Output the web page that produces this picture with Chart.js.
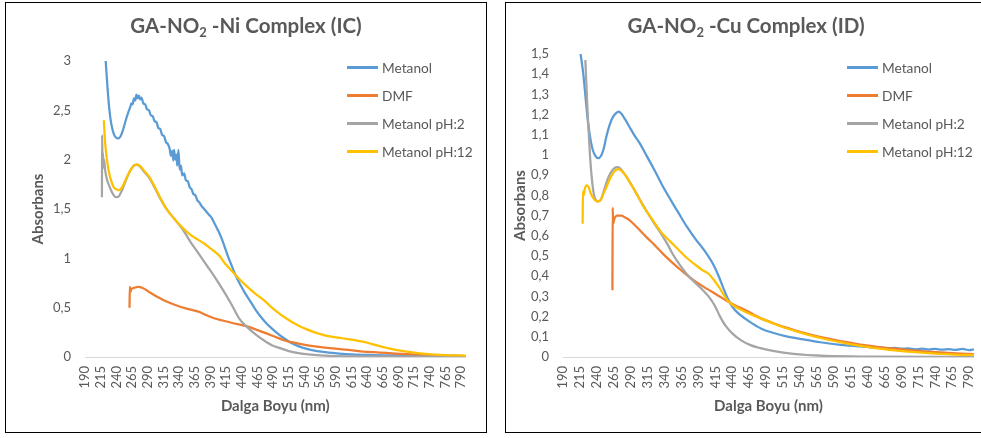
<!DOCTYPE html>
<html>
<head>
<meta charset="utf-8">
<script src="https://cdn.jsdelivr.net/npm/chart.js@4.4.1/dist/chart.umd.min.js"></script>
<style>
  html, body { margin: 0; padding: 0; background: #fff; overflow: hidden; }
  body { width: 981px; height: 438px; position: relative; font-family: Lato, "Open Sans", sans-serif; color: #595959; }
  .panel { position: absolute; top: 2px; height: 431px; border: 1px solid #000; box-sizing: border-box; }
  canvas { position: absolute; }
  .title { position: absolute; top: 13px; font-weight: bold; font-size: 20.5px; white-space: nowrap; transform: translateX(-50%); }
  .title sub { font-size: 13px; vertical-align: -4px; line-height: 0; }
  .legend { position: absolute; top: 53px; font-size: 13.7px; }
  .legend div { height: 28px; display: flex; align-items: center; white-space: nowrap; }
  .legend i { display: inline-block; width: 31px; height: 3px; margin-right: 4px; }
</style>
</head>
<body>
<div class="panel" style="left:5px;width:482px"></div>
<div class="panel" style="left:505px;width:500px"></div>
<canvas id="chartNi" width="480" height="429" style="left:6px;top:3px"></canvas>
<canvas id="chartCu" width="488" height="429" style="left:506px;top:3px"></canvas>
<div class="title" style="left:246px">GA-NO<sub>2</sub> -Ni Complex (IC)</div>
<div class="title" style="left:746px">GA-NO<sub>2</sub> -Cu Complex (ID)</div>
<div class="legend" id="legendNi" style="left:347px"></div>
<div class="legend" id="legendCu" style="left:847px"></div>
<script>
// etiquetas del eje X (nm)
const waveTicks = [190, 215, 240, 265, 290, 315, 340, 365, 390, 415, 440, 465, 490,
  515, 540, 565, 590, 615, 640, 665, 690, 715, 740, 765, 790];

const seriesNames = ['Metanol', 'DMF', 'Metanol pH:2', 'Metanol pH:12'];
const seriesColors = ['#5B9BD5', '#ED7D31', '#A5A5A5', '#FFC000'];

// === Complejo Ni (IC): [nm, absorbancia] ===
const niMetanol = [[223, 3.00], [226, 2.72], [229, 2.50], [232, 2.36], [236, 2.26], [240, 2.22],
  [243, 2.215], [247, 2.24], [251, 2.31], [255, 2.40], [259, 2.48], [262, 2.53], [264, 2.57],
  [266, 2.56], [268, 2.62], [270, 2.60], [272, 2.66], [274, 2.62], [276, 2.65], [278, 2.61],
  [280, 2.63], [283, 2.57], [286, 2.56], [289, 2.51], [292, 2.50], [295, 2.45], [298, 2.44],
  [301, 2.39], [304, 2.38], [307, 2.32], [310, 2.31], [313, 2.25], [316, 2.24], [319, 2.18],
  [322, 2.16], [325, 2.11], [327, 2.04], [329, 2.09], [331, 1.99], [332, 2.10], [334, 2.00],
  [336, 2.05], [337, 1.94], [339, 2.10], [341, 1.90], [343, 1.94], [345, 1.84], [348, 1.86],
  [351, 1.79], [354, 1.78], [357, 1.72], [360, 1.70], [363, 1.65], [366, 1.64], [369, 1.59],
  [372, 1.57], [376, 1.53], [380, 1.50], [384, 1.47], [388, 1.44], [392, 1.41], [396, 1.36],
  [400, 1.31], [404, 1.26], [408, 1.20], [413, 1.11], [418, 1.02], [423, 0.94], [428, 0.86],
  [433, 0.79], [438, 0.73], [444, 0.66], [449, 0.61], [456, 0.54], [463, 0.47], [470, 0.41],
  [478, 0.35], [486, 0.30], [495, 0.25], [505, 0.20], [517, 0.15], [530, 0.11], [545, 0.08],
  [560, 0.06], [580, 0.045], [606, 0.03], [650, 0.02], [700, 0.015], [797, 0.01]];
const niDmf = [[261, 0.50], [261.5, 0.71], [262.5, 0.66], [264, 0.69], [268, 0.70], [274, 0.71],
  [282, 0.70], [292, 0.66], [305, 0.61], [319, 0.565], [334, 0.527], [352, 0.49], [371, 0.46],
  [385, 0.42], [397, 0.39], [410, 0.37], [422, 0.35], [435, 0.33], [449, 0.31], [462, 0.28],
  [475, 0.25], [491, 0.21], [507, 0.17], [520, 0.15], [539, 0.125], [560, 0.105], [580, 0.09],
  [605, 0.075], [633, 0.055], [660, 0.045], [685, 0.035], [720, 0.025], [760, 0.015], [797, 0.01]];
const niPh2 = [[217, 1.62], [217.3, 2.25], [218, 1.95], [218.7, 2.07], [219.5, 1.92], [220.5, 2.00],
  [222, 1.90], [225, 1.80], [229, 1.73], [233, 1.67], [237, 1.63], [240, 1.62], [244, 1.63],
  [249, 1.69], [254, 1.77], [259, 1.85], [264, 1.91], [269, 1.945], [273, 1.95], [278, 1.93],
  [284, 1.88], [292, 1.82], [300, 1.73], [308, 1.63], [318, 1.52], [326, 1.45], [335, 1.38],
  [344, 1.31], [352, 1.23], [360, 1.15], [371, 1.05], [384, 0.93], [397, 0.81], [410, 0.68],
  [423, 0.54], [436, 0.39], [449, 0.30], [462, 0.23], [475, 0.17], [488, 0.12], [501, 0.09],
  [515, 0.06], [530, 0.04], [550, 0.025], [580, 0.012], [640, 0.006], [700, 0.004], [797, 0.003]];
const niPh12 = [[220, 2.40], [222, 2.18], [225, 2.00], [228, 1.88], [232, 1.78], [236, 1.72],
  [240, 1.70], [244, 1.69], [248, 1.71], [253, 1.77], [258, 1.84], [263, 1.90], [268, 1.94],
  [272, 1.95], [277, 1.94], [284, 1.89], [292, 1.83], [300, 1.74], [308, 1.64], [318, 1.52],
  [326, 1.45], [335, 1.38], [344, 1.32], [352, 1.27], [360, 1.23], [371, 1.185], [380, 1.15],
  [390, 1.10], [397, 1.067], [405, 1.02], [413, 0.95], [423, 0.88], [436, 0.79], [449, 0.71],
  [462, 0.64], [475, 0.577], [490, 0.49], [500, 0.44], [510, 0.395], [520, 0.355], [530, 0.32],
  [540, 0.29], [554, 0.255], [567, 0.23], [580, 0.21], [600, 0.19], [620, 0.17], [635, 0.153],
  [648, 0.13], [660, 0.11], [673, 0.09], [685, 0.072], [700, 0.057], [715, 0.045], [737, 0.03],
  [765, 0.02], [797, 0.015]];

// === Complejo Cu (ID): [nm, absorbancia] ===
const cuMetanol = [[216, 1.50], [220, 1.40], [224, 1.26], [227, 1.16], [231, 1.07], [234, 1.025],
  [238, 0.995], [242, 0.984], [246, 0.995], [250, 1.03], [254, 1.09], [259, 1.15], [264, 1.19],
  [268, 1.206], [272, 1.215], [276, 1.205], [282, 1.175], [288, 1.14], [295, 1.10], [303, 1.06],
  [314, 0.993], [325, 0.926], [337, 0.848], [349, 0.778], [361, 0.711], [373, 0.645],
  [386, 0.582], [396, 0.54], [405, 0.497], [412, 0.458], [420, 0.40], [427, 0.34], [434, 0.285],
  [440, 0.25], [447, 0.222], [459, 0.19], [470, 0.165], [483, 0.14], [500, 0.12], [520, 0.102],
  [545, 0.087], [570, 0.073], [600, 0.06], [630, 0.052], [640, 0.05], [650, 0.046], [660, 0.048],
  [670, 0.043], [680, 0.045], [690, 0.041], [700, 0.043], [710, 0.038], [720, 0.041],
  [730, 0.037], [740, 0.040], [750, 0.036], [760, 0.039], [770, 0.035], [780, 0.040],
  [790, 0.034], [797, 0.038]];
const cuDmf = [[263, 0.33], [263.4, 0.74], [264, 0.66], [266, 0.685], [270, 0.70], [276, 0.70],
  [282, 0.69], [288, 0.678], [300, 0.64], [312.5, 0.596], [325, 0.555], [337, 0.513], [349, 0.475],
  [361, 0.439], [373, 0.405], [386, 0.373], [398, 0.347], [410, 0.323], [422, 0.298], [434, 0.274],
  [446, 0.253], [459, 0.233], [471, 0.211], [483, 0.19], [495, 0.175], [505, 0.162], [530, 0.135],
  [554, 0.112], [578, 0.093], [603, 0.077], [627, 0.063], [651, 0.052], [680, 0.041],
  [710, 0.032], [740, 0.024], [770, 0.018], [797, 0.014]];
const cuPh2 = [[223, 1.47], [226.5, 1.20], [230, 0.99], [233, 0.87], [236, 0.80], [239, 0.775],
  [242, 0.77], [246, 0.78], [251, 0.83], [256, 0.88], [261, 0.915], [266, 0.935], [270, 0.94],
  [274, 0.935], [280, 0.91], [288, 0.87], [300, 0.80], [312, 0.73], [325, 0.66], [337, 0.60],
  [344, 0.56], [352, 0.51], [361, 0.464], [373, 0.41], [386, 0.365], [396, 0.333], [405, 0.30],
  [414, 0.255], [422, 0.20], [430, 0.155], [440, 0.117], [452, 0.085], [466, 0.06], [480, 0.045],
  [500, 0.03], [530, 0.015], [578, 0.005], [650, 0.002], [797, 0.0]];
const cuPh12 = [[219, 0.66], [219.5, 0.82], [220.5, 0.80], [222, 0.83], [225, 0.85], [228, 0.84],
  [231, 0.81], [235, 0.785], [239, 0.772], [242, 0.77], [246, 0.78], [250, 0.81], [254, 0.84],
  [259, 0.88], [264, 0.91], [268, 0.925], [272, 0.93], [277, 0.92], [282, 0.90], [288, 0.868],
  [295, 0.83], [303, 0.78], [312, 0.728], [320, 0.69], [328, 0.65], [337, 0.61], [349, 0.57],
  [361, 0.53], [373, 0.49], [386, 0.455], [396, 0.43], [405, 0.412], [412, 0.385], [420, 0.348],
  [427, 0.31], [434, 0.276], [444, 0.25], [454, 0.233], [468, 0.21], [483, 0.19], [505, 0.16],
  [530, 0.132], [554, 0.108], [578, 0.088], [603, 0.071], [627, 0.056], [651, 0.044],
  [680, 0.033], [710, 0.024], [740, 0.017], [770, 0.012], [797, 0.01]];

const FONT = 'Lato, "Open Sans", sans-serif';
const GRIS = '#595959';

function crearLeyenda(id) {
    const cont = document.getElementById(id);
    seriesNames.forEach(function (nombre, i) {
        const fila = document.createElement('div');
        fila.innerHTML = '<i style="background:' + seriesColors[i] + '"></i>' + nombre;
        cont.appendChild(fila);
    });
}

function crearGrafica(canvasId, series, yMax, yStep, pad, yWidth) {
    const datasets = series.map(function (puntos, i) {
        return {
            label: seriesNames[i],
            data: puntos.map(function (p) { return { x: p[0], y: p[1] }; }),
            borderColor: seriesColors[i],
            borderWidth: 2.25,
            pointRadius: 0,
            fill: false,
            cubicInterpolationMode: 'monotone',
            order: series.length - i
        };
    });

    return new Chart(document.getElementById(canvasId), {
        type: 'line',
        data: { datasets: datasets },
        options: {
            responsive: false,
            animation: false,
            devicePixelRatio: 1,
            layout: { padding: pad },
            plugins: { legend: { display: false }, tooltip: { enabled: false } },
            scales: {
                x: {
                    type: 'linear',
                    min: 190,
                    max: 797,
                    grid: { display: false, drawTicks: false },
                    border: { display: true, color: '#D9D9D9', width: 1 },
                    afterBuildTicks: function (scale) {
                        scale.ticks = waveTicks.map(function (v) { return { value: v }; });
                    },
                    afterFit: function (scale) { scale.height = 62; },
                    ticks: {
                        autoSkip: false,
                        minRotation: 90,
                        maxRotation: 90,
                        padding: 9,
                        color: GRIS,
                        font: { family: FONT, size: 13 },
                        callback: function (v) { return String(v); }
                    },
                    title: {
                        display: true,
                        text: 'Dalga Boyu (nm)',
                        color: GRIS,
                        font: { family: FONT, size: 15, weight: 'bold' }
                    }
                },
                y: {
                    min: 0,
                    max: yMax,
                    grid: { display: false, drawTicks: false },
                    border: { display: false },
                    afterFit: function (scale) { scale.width = yWidth; },
                    ticks: {
                        stepSize: yStep,
                        padding: 14,
                        color: GRIS,
                        font: { family: FONT, size: 13 },
                        callback: function (v) {
                            return String(Number(v.toFixed(2))).replace('.', ',');
                        }
                    },
                    title: {
                        display: true,
                        text: 'Absorbans',
                        color: GRIS,
                        font: { family: FONT, size: 15, weight: 'bold' }
                    }
                }
            }
        }
    });
}

crearLeyenda('legendNi');
crearLeyenda('legendCu');

crearGrafica('chartNi', [niMetanol, niDmf, niPh2, niPh12], 3, 0.5,
    { left: 19, top: 58, right: 15, bottom: 13 }, 60);
crearGrafica('chartCu', [cuMetanol, cuDmf, cuPh2, cuPh12], 1.5, 0.1,
    { left: 1, top: 51, right: 15, bottom: 13 }, 56);
</script>
</body>
</html>
